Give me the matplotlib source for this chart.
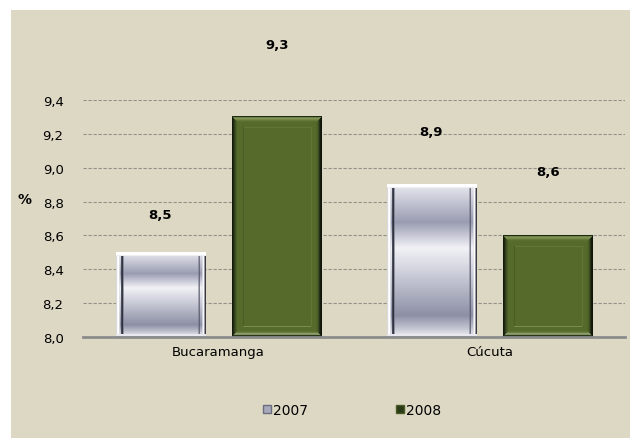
import numpy as np
import matplotlib.pyplot as plt
from matplotlib.patches import Rectangle
from matplotlib.lines import Line2D
from matplotlib.colors import to_rgb

ciudades = ['Bucaramanga', 'Cúcuta']
anios = ['2007', '2008']
valores_2007 = [8.5, 8.9]
valores_2008 = [9.3, 8.6]
etiquetas_2007 = ['8,5', '8,9']
etiquetas_2008 = ['9,3', '8,6']
ticks_y = [8.0, 8.2, 8.4, 8.6, 8.8, 9.0, 9.2, 9.4]
etiquetas_y = ['8,0', '8,2', '8,4', '8,6', '8,8', '9,0', '9,2', '9,4']

fondo = '#DDD8C4'
W, H = 630, 439

fig = plt.figure(figsize=(W / 100, H / 100), dpi=100)
fig.patches.append(Rectangle((11 / W, 0), 1, (H - 11) / H, transform=fig.transFigure,
                             facecolor=fondo, edgecolor='none', zorder=-1))

ax = fig.add_axes([83 / W, (H - 338) / H, 542 / W, 237 / H])
ax.set_facecolor('none')
ax.set_xlim(-0.5, 1.5)
ax.set_ylim(8.0, 9.4)

x = np.arange(len(ciudades))
ancho = 0.33
desp = 0.215
b1 = ax.bar(x - desp, np.array(valores_2007) - 8.0, ancho, bottom=8.0, color='none', zorder=3)
b2 = ax.bar(x + desp, np.array(valores_2008) - 8.0, ancho, bottom=8.0, color='none', zorder=3)


def interp_stops(n, stops):
    pos = [s[0] for s in stops]
    cols = np.array([to_rgb(s[1]) for s in stops])
    t = np.linspace(0, 1, n)
    return np.stack([np.interp(t, pos, cols[:, k]) for k in range(3)], axis=1)


def px_size(p):
    (x0, y0) = ax.transData.transform((p.get_x(), p.get_y()))
    (x1, y1) = ax.transData.transform((p.get_x() + p.get_width(), p.get_y() + p.get_height()))
    return int(round(x1 - x0)), int(round(y1 - y0))


def img_plata(nx, ny):
    # vertical gradient, top -> bottom
    col = interp_stops(ny, [(0, '#f4f4f8'), (0.03, '#dfe0e8'), (0.25, '#9a9db2'),
                            (0.42, '#f2f2f6'), (0.6, '#c8cad6'), (0.86, '#8d90a5'),
                            (0.95, '#c6c8d4'), (1.0, '#f0f0f4')])
    img = np.repeat(col[:, None, :], nx, axis=1)
    # side edges
    for i, c, a in [(0, '#d8d8de', 1), (1, '#f8f8fa', 1), (2, '#ffffff', 1), (3, '#e0e2ea', 0.8),
                    (5, '#3a3d4c', 0.9), (6, '#24262f', 0.9), (7, '#6a6d80', 0.6)]:
        img[4:-3, i] = img[4:-3, i] * (1 - a) + np.array(to_rgb(c)) * a
    for i, c, a in [(-1, '#3a3a40', 1), (-2, '#9a9aa6', 1), (-3, '#ffffff', 0.9), (-4, '#e6e6ee', 0.7),
                    (-7, '#4a4d5e', 0.7), (-8, '#6a6d80', 0.5)]:
        img[4:-3, i] = img[4:-3, i] * (1 - a) + np.array(to_rgb(c)) * a
    img[:3, :] = to_rgb('#ffffff')
    img[3, :] = to_rgb('#eceef4')
    img[-3:, :] = to_rgb('#e8e8ee')
    img[-1, :] = to_rgb('#b0b0b8')
    return img


def img_verde(nx, ny):
    base = np.array(to_rgb('#566A2C'))
    img = np.ones((ny, nx, 3)) * base
    # left / right dark borders
    izq = ['#141b0b', '#1f2912', '#2f3d1a', '#3f5022', '#4a5d28']
    for i, c in enumerate(izq):
        img[:, i] = to_rgb(c)
    der = ['#0e1309', '#151c0c', '#25301a', '#3c4c21', '#4d6028', '#516428']
    for i, c in enumerate(der):
        img[:, -1 - i] = to_rgb(c)
    # top bevel
    arriba = ['#1f2a12', '#6f8246', '#7e9054', '#748848', '#64783a', '#5a6e30']
    for i, c in enumerate(arriba):
        img[i, i:nx - i] = to_rgb(c)
    # bottom bevel
    abajo = ['#161e0d', '#2a361a', '#7f8f60', '#8d9c6c', '#6b7d42', '#5b6f31']
    for i, c in enumerate(abajo):
        img[-1 - i, i:nx - i] = to_rgb(c)
    # inner frame lines
    k = 11
    img[k, k:nx - k] = to_rgb('#62763a')
    img[-k, k:nx - k] = to_rgb('#7a8c50')
    img[k:ny - k, k] = to_rgb('#4a5c25')
    img[k:ny - k, -k] = to_rgb('#62763a')
    return img


for barras, fn in [(b1, img_plata), (b2, img_verde)]:
    for p in barras:
        nx, ny = px_size(p)
        im = fn(nx, ny)
        ax.imshow(im, extent=(p.get_x(), p.get_x() + p.get_width(), p.get_y(), p.get_y() + p.get_height()),
                  aspect='auto', interpolation='nearest', zorder=4)

ax.set_xlim(-0.5, 1.5)
ax.set_ylim(8.0, 9.4)

# value labels (offsets in points, as placed in the reference)
off_2007 = [27, 38]
off_2008 = [52, 46]
for p, t, o in zip(b1, etiquetas_2007, off_2007):
    ax.annotate(t, (p.get_x() + p.get_width() / 2, p.get_y() + p.get_height()), xytext=(0, o),
                textcoords='offset points', ha='center', va='center', fontsize=9.5,
                fontweight='bold', annotation_clip=False)
for p, t, o in zip(b2, etiquetas_2008, off_2008):
    ax.annotate(t, (p.get_x() + p.get_width() / 2, p.get_y() + p.get_height()), xytext=(0, o),
                textcoords='offset points', ha='center', va='center', fontsize=9.5,
                fontweight='bold', annotation_clip=False)

ax.set_yticks(ticks_y)
ax.set_yticklabels(etiquetas_y, fontsize=9.5)
ax.set_xticks(x)
ax.set_xticklabels(ciudades, fontsize=9.5)
ax.tick_params(axis='both', length=0, pad=6)
ax.tick_params(axis='y', pad=14)
ax.yaxis.grid(True, linestyle=(0, (3, 1.5)), color='#949288', linewidth=0.8)
ax.set_axisbelow(True)
for s in ['top', 'right', 'left']:
    ax.spines[s].set_visible(False)
ax.spines['bottom'].set_color('#8c8c8c')
ax.spines['bottom'].set_linewidth(2)
ax.spines['bottom'].set_zorder(5)

fig.text(25 / W, 1 - 200 / H, '%', fontsize=10, fontweight='bold', ha='center', va='center')

handles = [Line2D([], [], marker='s', linestyle='none', markersize=5.5, markerfacecolor='#a8aabb',
                  markeredgecolor='#6a6d80'),
           Line2D([], [], marker='s', linestyle='none', markersize=5.5, markerfacecolor='#2a3a16',
                  markeredgecolor='#4a5c25')]
fig.legend(handles, anios, loc='center', bbox_to_anchor=(351 / W, 1 - 411 / H), ncol=2,
           frameon=False, fontsize=10, handletextpad=0.0, columnspacing=6.2, handlelength=0.9)

fig.savefig('out.png', dpi=100)
